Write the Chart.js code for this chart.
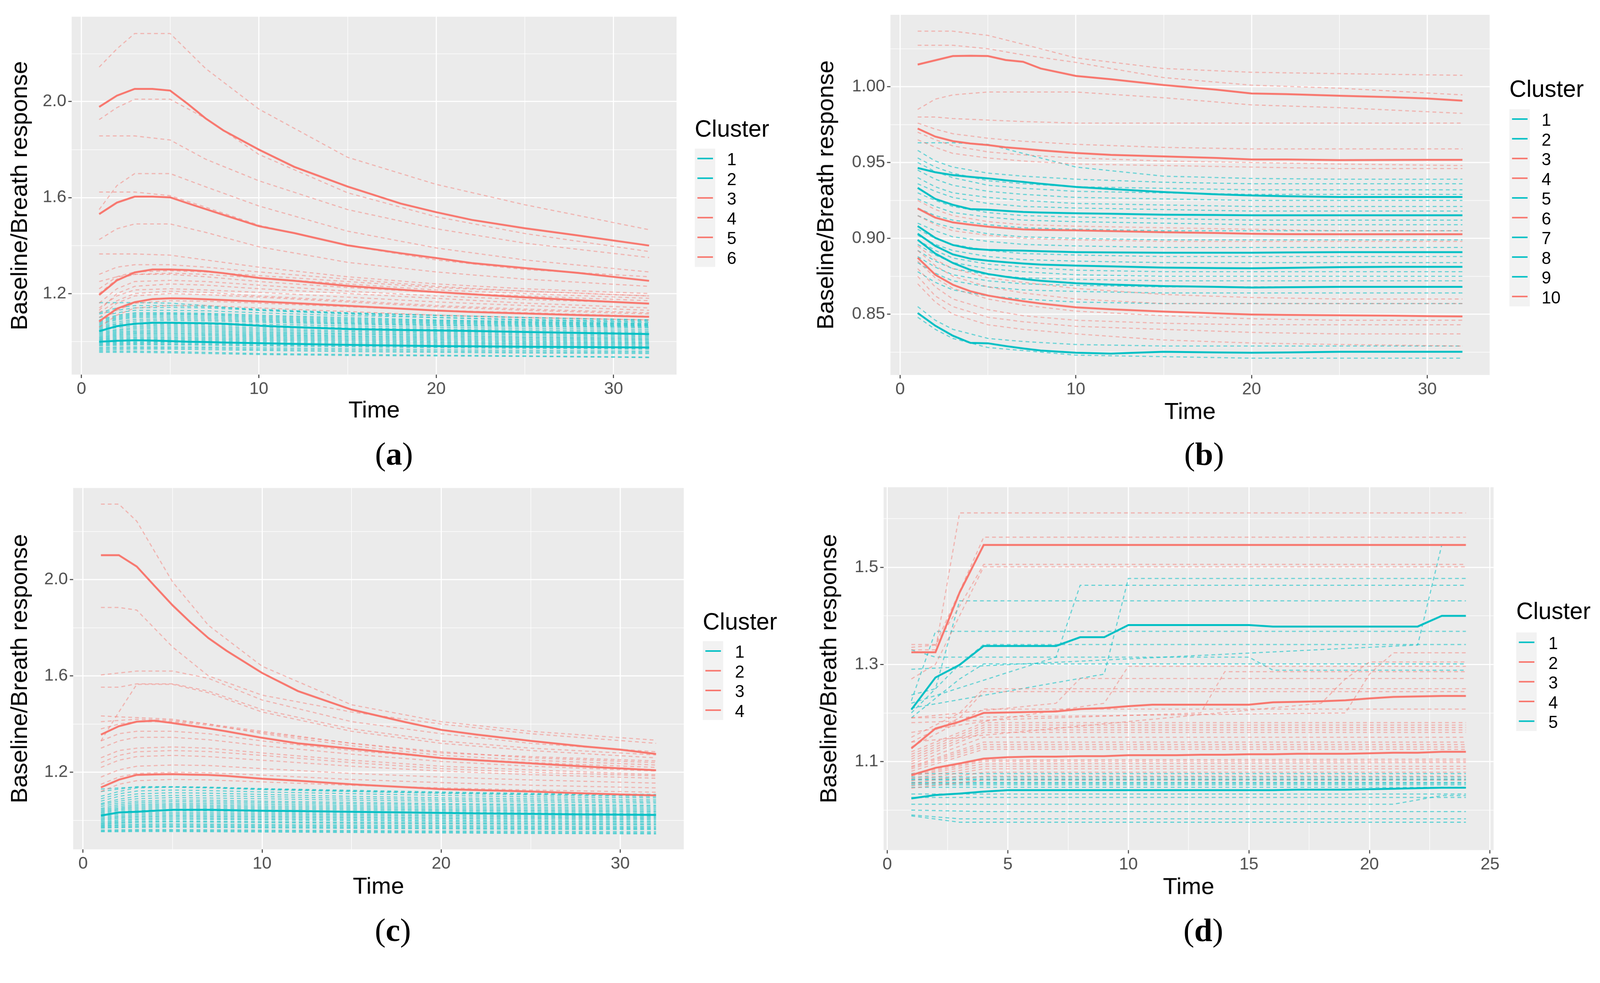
<!DOCTYPE html>
<html>
<head>
<meta charset="utf-8">
<script src="https://cdn.jsdelivr.net/npm/chart.js@4.4.1/dist/chart.umd.min.js"></script>
<style>
  html, body { margin: 0; padding: 0; background: #fff; overflow: hidden; }
  #page { position: relative; width: 4219px; height: 2517px; transform-origin: 0 0;
          font-family: "Liberation Sans", Arial, sans-serif; }
  canvas { position: absolute; }
  .ttl { position: absolute; font-size: 62px; line-height: 62px; color: #000; }
  .keys { position: absolute; background: #F2F2F2; width: 54px; }
  .row { height: 52px; position: relative; }
  .row i { position: absolute; left: 7px; top: 24px; width: 41px; height: 4px; }
  .lab { position: absolute; font-size: 45px; line-height: 52px; color: #000; }
  .cap { position: absolute; font-family: "Liberation Serif", serif; font-size: 86px; line-height: 1;
         transform: translate(-50%, -50%); white-space: nowrap; }
</style>
</head>
<body>
<div id="page"></div>
<script>
const TEAL = "#00BFC4", RED = "#F8766D";
const TEAL_DASH = "rgba(0,191,196,0.6)", RED_DASH = "rgba(248,118,109,0.5)";
Chart.defaults.font.family = '"Liberation Sans", Arial, sans-serif';

// ---------- panel (a)
const clustersA = ["1", "2", "3", "4", "5", "6"];
const meanTimeA = [1, 2, 3, 4, 5, 6, 7, 8, 10, 12, 15, 18, 20, 22, 25, 28, 32];
const meanA1 = [1.043, 1.064, 1.074, 1.078, 1.078, 1.077, 1.076, 1.074, 1.066, 1.06, 1.052, 1.048, 1.046, 1.044, 1.04, 1.036, 1.031];
const meanA2 = [0.999, 1.003, 1.005, 1.004, 1.002, 0.999, 0.998, 0.996, 0.993, 0.99, 0.986, 0.983, 0.981, 0.98, 0.978, 0.977, 0.975];
const meanA3 = [1.978, 2.025, 2.053, 2.053, 2.046, 1.99, 1.93, 1.88, 1.80, 1.728, 1.646, 1.575, 1.539, 1.507, 1.472, 1.442, 1.40];
const meanA4 = [1.531, 1.579, 1.604, 1.604, 1.601, 1.576, 1.552, 1.528, 1.481, 1.452, 1.401, 1.368, 1.348, 1.327, 1.306, 1.286, 1.253];
const meanA5 = [1.194, 1.255, 1.288, 1.30, 1.30, 1.298, 1.293, 1.285, 1.265, 1.253, 1.232, 1.216, 1.206, 1.197, 1.184, 1.172, 1.158];
const meanA6 = [1.084, 1.137, 1.164, 1.177, 1.18, 1.179, 1.176, 1.173, 1.167, 1.16, 1.149, 1.137, 1.129, 1.123, 1.117, 1.11, 1.103];
const dashTimeA = [1, 2, 3, 5, 7, 10, 15, 20, 25, 32];
const dashRedA = [
  [2.144, 2.22, 2.284, 2.284, 2.138, 1.969, 1.768, 1.655, 1.57, 1.466],
  [1.925, 1.975, 2.01, 2.01, 1.93, 1.78, 1.62, 1.52, 1.45, 1.375],
  [1.857, 1.857, 1.857, 1.84, 1.76, 1.67, 1.55, 1.47, 1.41, 1.35],
  [1.55, 1.65, 1.70, 1.70, 1.645, 1.565, 1.46, 1.39, 1.34, 1.29],
  [1.623, 1.623, 1.623, 1.608, 1.56, 1.485, 1.40, 1.34, 1.30, 1.27],
  [1.425, 1.47, 1.49, 1.49, 1.455, 1.395, 1.33, 1.29, 1.26, 1.23],
  [1.365, 1.365, 1.365, 1.36, 1.34, 1.31, 1.27, 1.24, 1.22, 1.20],
  [1.28, 1.31, 1.32, 1.32, 1.31, 1.29, 1.26, 1.23, 1.21, 1.19],
  [1.20, 1.26, 1.28, 1.285, 1.28, 1.265, 1.24, 1.215, 1.20, 1.18],
  [1.25, 1.27, 1.28, 1.28, 1.27, 1.25, 1.225, 1.205, 1.19, 1.17],
  [1.13, 1.20, 1.23, 1.24, 1.235, 1.22, 1.20, 1.18, 1.16, 1.14],
  [1.10, 1.16, 1.19, 1.20, 1.195, 1.185, 1.165, 1.145, 1.13, 1.115],
  [1.08, 1.13, 1.16, 1.17, 1.168, 1.16, 1.145, 1.13, 1.12, 1.105],
  [1.12, 1.17, 1.20, 1.21, 1.205, 1.19, 1.17, 1.15, 1.135, 1.12],
  [1.06, 1.11, 1.14, 1.15, 1.15, 1.14, 1.125, 1.11, 1.10, 1.09],
  [1.16, 1.22, 1.25, 1.255, 1.25, 1.235, 1.21, 1.19, 1.175, 1.16],
  [1.22, 1.27, 1.29, 1.295, 1.29, 1.275, 1.25, 1.225, 1.21, 1.19],
  [1.14, 1.19, 1.215, 1.22, 1.215, 1.205, 1.185, 1.165, 1.15, 1.13]
];
const dashTealA = [
  [1.162, 1.162, 1.162, 1.16, 1.15, 1.13, 1.115, 1.10, 1.09, 1.08],
  [1.12, 1.14, 1.15, 1.15, 1.145, 1.135, 1.12, 1.11, 1.10, 1.09],
  [1.115, 1.13, 1.14, 1.142, 1.14, 1.13, 1.118, 1.108, 1.10, 1.09],
  [1.10, 1.12, 1.13, 1.13, 1.128, 1.12, 1.108, 1.10, 1.092, 1.085],
  [1.09, 1.11, 1.12, 1.12, 1.118, 1.11, 1.10, 1.09, 1.085, 1.075],
  [1.085, 1.105, 1.115, 1.116, 1.114, 1.105, 1.095, 1.087, 1.081, 1.073],
  [1.08, 1.10, 1.11, 1.112, 1.11, 1.10, 1.09, 1.083, 1.078, 1.07],
  [1.075, 1.095, 1.105, 1.106, 1.104, 1.095, 1.085, 1.079, 1.074, 1.067],
  [1.07, 1.09, 1.10, 1.10, 1.098, 1.09, 1.08, 1.075, 1.07, 1.065],
  [1.065, 1.082, 1.092, 1.094, 1.092, 1.085, 1.076, 1.07, 1.066, 1.061],
  [1.06, 1.075, 1.085, 1.088, 1.086, 1.08, 1.072, 1.066, 1.062, 1.058],
  [1.055, 1.07, 1.078, 1.08, 1.078, 1.072, 1.065, 1.059, 1.055, 1.051],
  [1.05, 1.065, 1.07, 1.072, 1.07, 1.065, 1.058, 1.052, 1.048, 1.044],
  [1.045, 1.058, 1.064, 1.066, 1.064, 1.058, 1.052, 1.046, 1.042, 1.038],
  [1.04, 1.05, 1.058, 1.06, 1.058, 1.052, 1.045, 1.04, 1.036, 1.032],
  [1.035, 1.045, 1.052, 1.054, 1.052, 1.046, 1.04, 1.035, 1.031, 1.027],
  [1.03, 1.04, 1.045, 1.048, 1.046, 1.04, 1.034, 1.03, 1.026, 1.022],
  [1.025, 1.035, 1.04, 1.042, 1.04, 1.035, 1.03, 1.025, 1.02, 1.017],
  [1.02, 1.03, 1.035, 1.036, 1.034, 1.03, 1.024, 1.02, 1.016, 1.012],
  [1.016, 1.025, 1.03, 1.031, 1.029, 1.025, 1.02, 1.015, 1.011, 1.008],
  [1.012, 1.02, 1.024, 1.025, 1.024, 1.02, 1.015, 1.01, 1.006, 1.003],
  [1.008, 1.015, 1.018, 1.019, 1.018, 1.015, 1.01, 1.005, 1.001, 0.998],
  [1.005, 1.01, 1.013, 1.014, 1.013, 1.01, 1.005, 1.0, 0.997, 0.994],
  [1.0, 1.005, 1.008, 1.009, 1.008, 1.005, 1.0, 0.996, 0.992, 0.99],
  [0.998, 1.0, 1.003, 1.004, 1.003, 1.0, 0.995, 0.991, 0.988, 0.985],
  [0.994, 0.996, 0.998, 0.999, 0.998, 0.995, 0.99, 0.986, 0.983, 0.98],
  [0.99, 0.992, 0.994, 0.995, 0.994, 0.99, 0.986, 0.982, 0.979, 0.976],
  [0.986, 0.988, 0.99, 0.99, 0.989, 0.986, 0.982, 0.978, 0.975, 0.972],
  [0.982, 0.984, 0.986, 0.986, 0.985, 0.982, 0.978, 0.974, 0.971, 0.968],
  [0.975, 0.977, 0.978, 0.978, 0.977, 0.974, 0.97, 0.966, 0.963, 0.96],
  [0.97, 0.972, 0.973, 0.973, 0.972, 0.968, 0.964, 0.96, 0.957, 0.955],
  [0.965, 0.967, 0.968, 0.968, 0.966, 0.963, 0.958, 0.955, 0.952, 0.95],
  [0.96, 0.96, 0.96, 0.958, 0.955, 0.95, 0.946, 0.943, 0.94, 0.935],
  [0.955, 0.955, 0.955, 0.953, 0.95, 0.946, 0.942, 0.94, 0.938, 0.933]
];
const xTicksA = [0, 5, 10, 15, 20, 25, 30], xMajorA = [0, 10, 20, 30];
const yTicksA = [1.0, 1.2, 1.4, 1.6, 1.8, 2.0, 2.2], yMajorA = [1.2, 1.6, 2.0];

// ---------- panel (b)
const clustersB = ["1", "2", "3", "4", "5", "6", "7", "8", "9", "10"];
const meanTimeB = [1, 2, 3, 4, 5, 6, 7, 8, 10, 12, 15, 18, 20, 22, 25, 28, 30, 32];
const meanB1 = [0.9464, 0.9436, 0.9417, 0.9405, 0.9395, 0.9383, 0.9372, 0.936, 0.9339, 0.9325, 0.9305, 0.929, 0.9283, 0.9278, 0.9273, 0.9273, 0.9273, 0.9273];
const meanB2 = [0.9333, 0.926, 0.9221, 0.9193, 0.9189, 0.9181, 0.9174, 0.917, 0.9165, 0.9162, 0.9156, 0.9154, 0.9152, 0.9152, 0.9152, 0.9152, 0.9152, 0.9152];
const meanB3 = [1.0146, 1.0174, 1.0202, 1.0204, 1.0202, 1.0176, 1.0164, 1.012, 1.0071, 1.0049, 1.0011, 0.998, 0.9955, 0.9951, 0.994, 0.9931, 0.9922, 0.9908];
const meanB4 = [0.9724, 0.9671, 0.9641, 0.9625, 0.9615, 0.960, 0.9591, 0.958, 0.9563, 0.955, 0.954, 0.953, 0.952, 0.952, 0.9516, 0.9517, 0.9518, 0.9518];
const meanB5 = [0.9081, 0.9003, 0.8956, 0.8932, 0.8924, 0.8921, 0.8919, 0.8915, 0.8909, 0.8907, 0.8905, 0.8905, 0.8905, 0.8907, 0.8909, 0.8909, 0.8909, 0.8909];
const meanB6 = [0.9197, 0.9137, 0.9105, 0.909, 0.9077, 0.9067, 0.9059, 0.9056, 0.9053, 0.9048, 0.904, 0.9035, 0.903, 0.9028, 0.9027, 0.9027, 0.9027, 0.9027];
const meanB7 = [0.9031, 0.895, 0.8894, 0.8866, 0.8853, 0.8843, 0.8834, 0.8827, 0.882, 0.8815, 0.8807, 0.8804, 0.8803, 0.8805, 0.881, 0.8812, 0.8812, 0.8812];
const meanB8 = [0.899, 0.89, 0.8838, 0.8792, 0.8765, 0.8747, 0.8732, 0.872, 0.8704, 0.8695, 0.8685, 0.868, 0.8676, 0.8678, 0.868, 0.868, 0.868, 0.868];
const meanB9 = [0.8508, 0.8424, 0.8358, 0.8311, 0.8308, 0.829, 0.8274, 0.826, 0.8246, 0.824, 0.8252, 0.8248, 0.8246, 0.8248, 0.8252, 0.8252, 0.8252, 0.8252];
const meanB10 = [0.8872, 0.876, 0.8694, 0.8651, 0.8623, 0.8603, 0.8586, 0.857, 0.8545, 0.8532, 0.8517, 0.8505, 0.8498, 0.8495, 0.8493, 0.849, 0.8487, 0.8485];
const dashTimeB = [1, 2, 3, 5, 7, 10, 15, 20, 25, 32];
const dashRedB = [
  [1.0366, 1.0366, 1.0366, 1.0338, 1.028, 1.019, 1.012, 1.0095, 1.0086, 1.0075],
  [1.0273, 1.0273, 1.0273, 1.025, 1.021, 1.016, 1.006, 1.001, 0.999, 0.9946],
  [0.985, 0.9918, 0.9946, 0.9965, 0.9965, 0.9965, 0.9927, 0.988, 0.9862, 0.9824],
  [0.980, 0.980, 0.979, 0.978, 0.977, 0.976, 0.976, 0.976, 0.976, 0.976],
  [0.976, 0.972, 0.969, 0.966, 0.964, 0.962, 0.960, 0.959, 0.959, 0.959],
  [0.970, 0.965, 0.961, 0.957, 0.955, 0.953, 0.951, 0.950, 0.949, 0.948],
  [0.965, 0.960, 0.956, 0.953, 0.951, 0.949, 0.948, 0.947, 0.946, 0.946],
  [0.925, 0.919, 0.915, 0.911, 0.909, 0.908, 0.907, 0.906, 0.905, 0.905],
  [0.915, 0.909, 0.905, 0.902, 0.900, 0.899, 0.898, 0.898, 0.898, 0.898],
  [0.895, 0.886, 0.880, 0.874, 0.871, 0.867, 0.863, 0.861, 0.860, 0.860],
  [0.892, 0.882, 0.875, 0.868, 0.864, 0.860, 0.857, 0.857, 0.857, 0.857],
  [0.885, 0.874, 0.867, 0.860, 0.856, 0.852, 0.849, 0.847, 0.846, 0.846],
  [0.880, 0.868, 0.860, 0.853, 0.849, 0.846, 0.844, 0.843, 0.843, 0.843],
  [0.875, 0.862, 0.855, 0.848, 0.845, 0.842, 0.840, 0.838, 0.837, 0.837],
  [0.870, 0.858, 0.850, 0.843, 0.840, 0.837, 0.833, 0.831, 0.830, 0.829]
];
const dashTealB = [
  [0.963, 0.963, 0.963, 0.962, 0.956, 0.947, 0.941, 0.9395, 0.939, 0.939],
  [0.958, 0.951, 0.947, 0.943, 0.941, 0.939, 0.937, 0.936, 0.936, 0.936],
  [0.953, 0.947, 0.943, 0.938, 0.936, 0.934, 0.933, 0.932, 0.932, 0.932],
  [0.950, 0.944, 0.940, 0.935, 0.933, 0.931, 0.930, 0.929, 0.929, 0.929],
  [0.945, 0.939, 0.935, 0.931, 0.929, 0.927, 0.926, 0.925, 0.925, 0.925],
  [0.940, 0.934, 0.930, 0.927, 0.925, 0.923, 0.922, 0.921, 0.921, 0.921],
  [0.936, 0.931, 0.927, 0.923, 0.921, 0.920, 0.919, 0.918, 0.918, 0.918],
  [0.930, 0.925, 0.921, 0.917, 0.915, 0.914, 0.913, 0.912, 0.912, 0.912],
  [0.926, 0.921, 0.917, 0.914, 0.912, 0.911, 0.910, 0.909, 0.909, 0.909],
  [0.920, 0.915, 0.912, 0.909, 0.907, 0.906, 0.905, 0.905, 0.905, 0.905],
  [0.915, 0.910, 0.907, 0.903, 0.901, 0.900, 0.899, 0.899, 0.899, 0.899],
  [0.910, 0.905, 0.901, 0.898, 0.896, 0.895, 0.894, 0.894, 0.894, 0.894],
  [0.906, 0.900, 0.896, 0.892, 0.890, 0.889, 0.888, 0.888, 0.888, 0.888],
  [0.902, 0.896, 0.892, 0.888, 0.886, 0.885, 0.884, 0.884, 0.884, 0.884],
  [0.899, 0.892, 0.887, 0.883, 0.881, 0.879, 0.878, 0.878, 0.878, 0.878],
  [0.896, 0.889, 0.884, 0.880, 0.878, 0.876, 0.875, 0.875, 0.875, 0.875],
  [0.892, 0.885, 0.880, 0.876, 0.874, 0.873, 0.872, 0.872, 0.872, 0.872],
  [0.888, 0.881, 0.876, 0.872, 0.870, 0.869, 0.868, 0.868, 0.868, 0.868],
  [0.884, 0.877, 0.872, 0.868, 0.866, 0.865, 0.864, 0.864, 0.864, 0.864],
  [0.878, 0.871, 0.866, 0.862, 0.860, 0.858, 0.857, 0.857, 0.857, 0.857],
  [0.855, 0.846, 0.840, 0.834, 0.832, 0.830, 0.829, 0.829, 0.829, 0.829],
  [0.848, 0.840, 0.834, 0.828, 0.826, 0.823, 0.822, 0.821, 0.821, 0.821]
];
const xTicksB = [0, 5, 10, 15, 20, 25, 30], xMajorB = [0, 10, 20, 30];
const yTicksB = [0.825, 0.85, 0.875, 0.9, 0.925, 0.95, 0.975, 1.0, 1.025], yMajorB = [0.85, 0.9, 0.95, 1.0];

// ---------- panel (c)
const clustersC = ["1", "2", "3", "4"];
const meanTimeC = [1, 2, 3, 4, 5, 6, 7, 8, 10, 12, 15, 18, 20, 22, 25, 28, 30, 32];
const meanC1 = [1.02, 1.033, 1.036, 1.04, 1.044, 1.044, 1.044, 1.043, 1.04, 1.039, 1.036, 1.033, 1.031, 1.029, 1.027, 1.025, 1.024, 1.023];
const meanC2 = [2.101, 2.101, 2.054, 1.973, 1.893, 1.822, 1.757, 1.705, 1.612, 1.537, 1.46, 1.408, 1.376, 1.356, 1.33, 1.307, 1.294, 1.276];
const meanC3 = [1.356, 1.391, 1.41, 1.414, 1.404, 1.393, 1.382, 1.37, 1.343, 1.32, 1.298, 1.275, 1.259, 1.25, 1.237, 1.224, 1.216, 1.208];
const meanC4 = [1.137, 1.169, 1.189, 1.191, 1.192, 1.19, 1.189, 1.185, 1.173, 1.165, 1.15, 1.138, 1.13, 1.126, 1.12, 1.112, 1.108, 1.104];
const dashTimeC = [1, 2, 3, 5, 7, 10, 15, 20, 25, 32];
const dashRedC = [
  [2.313, 2.313, 2.242, 1.99, 1.81, 1.64, 1.48, 1.41, 1.37, 1.333],
  [1.884, 1.884, 1.873, 1.72, 1.60, 1.52, 1.45, 1.40, 1.36, 1.32],
  [1.604, 1.612, 1.62, 1.62, 1.59, 1.50, 1.41, 1.36, 1.32, 1.285],
  [1.553, 1.553, 1.567, 1.567, 1.537, 1.46, 1.38, 1.33, 1.30, 1.272],
  [1.33, 1.45, 1.565, 1.565, 1.53, 1.45, 1.37, 1.32, 1.29, 1.26],
  [1.434, 1.43, 1.427, 1.42, 1.40, 1.37, 1.32, 1.28, 1.265, 1.247],
  [1.41, 1.415, 1.42, 1.415, 1.40, 1.36, 1.31, 1.27, 1.25, 1.23],
  [1.38, 1.40, 1.41, 1.41, 1.395, 1.365, 1.32, 1.285, 1.26, 1.24],
  [1.33, 1.36, 1.37, 1.37, 1.36, 1.33, 1.29, 1.26, 1.24, 1.22],
  [1.30, 1.33, 1.345, 1.345, 1.335, 1.31, 1.275, 1.245, 1.225, 1.205],
  [1.26, 1.29, 1.30, 1.305, 1.30, 1.28, 1.25, 1.225, 1.21, 1.19],
  [1.24, 1.27, 1.285, 1.29, 1.286, 1.27, 1.24, 1.215, 1.20, 1.185],
  [1.22, 1.25, 1.265, 1.27, 1.265, 1.25, 1.225, 1.205, 1.19, 1.175],
  [1.18, 1.21, 1.225, 1.23, 1.228, 1.215, 1.195, 1.18, 1.168, 1.155],
  [1.15, 1.18, 1.195, 1.20, 1.198, 1.188, 1.17, 1.157, 1.146, 1.135],
  [1.12, 1.15, 1.165, 1.17, 1.168, 1.16, 1.146, 1.135, 1.126, 1.117]
];
const dashTealC = [
  [1.13, 1.135, 1.138, 1.139, 1.137, 1.13, 1.122, 1.115, 1.109, 1.104],
  [1.12, 1.13, 1.14, 1.14, 1.138, 1.132, 1.125, 1.118, 1.112, 1.108],
  [1.10, 1.12, 1.135, 1.138, 1.135, 1.128, 1.12, 1.112, 1.106, 1.10],
  [1.09, 1.11, 1.122, 1.126, 1.124, 1.118, 1.111, 1.104, 1.098, 1.094],
  [1.08, 1.10, 1.11, 1.115, 1.113, 1.108, 1.10, 1.094, 1.09, 1.085],
  [1.07, 1.088, 1.10, 1.104, 1.103, 1.099, 1.092, 1.087, 1.083, 1.078],
  [1.065, 1.08, 1.09, 1.095, 1.093, 1.09, 1.084, 1.08, 1.076, 1.072],
  [1.058, 1.072, 1.08, 1.085, 1.084, 1.08, 1.075, 1.07, 1.067, 1.063],
  [1.05, 1.065, 1.073, 1.078, 1.077, 1.074, 1.069, 1.065, 1.062, 1.058],
  [1.045, 1.058, 1.066, 1.07, 1.07, 1.067, 1.062, 1.058, 1.055, 1.052],
  [1.04, 1.052, 1.06, 1.064, 1.063, 1.06, 1.056, 1.052, 1.049, 1.046],
  [1.035, 1.047, 1.054, 1.058, 1.057, 1.054, 1.05, 1.046, 1.043, 1.04],
  [1.03, 1.042, 1.048, 1.052, 1.051, 1.048, 1.044, 1.041, 1.038, 1.035],
  [1.025, 1.036, 1.042, 1.046, 1.045, 1.042, 1.038, 1.035, 1.032, 1.029],
  [1.02, 1.03, 1.036, 1.04, 1.039, 1.036, 1.032, 1.029, 1.026, 1.024],
  [1.015, 1.024, 1.03, 1.033, 1.032, 1.03, 1.026, 1.023, 1.02, 1.018],
  [1.01, 1.018, 1.024, 1.027, 1.026, 1.024, 1.021, 1.018, 1.015, 1.013],
  [1.005, 1.013, 1.018, 1.021, 1.02, 1.018, 1.015, 1.012, 1.01, 1.008],
  [1.0, 1.008, 1.013, 1.016, 1.015, 1.013, 1.01, 1.007, 1.005, 1.003],
  [0.995, 1.002, 1.007, 1.01, 1.009, 1.007, 1.004, 1.001, 0.999, 0.997],
  [0.99, 0.997, 1.002, 1.004, 1.004, 1.002, 0.999, 0.996, 0.994, 0.992],
  [0.986, 0.992, 0.996, 0.998, 0.997, 0.995, 0.992, 0.99, 0.988, 0.986],
  [0.982, 0.988, 0.992, 0.994, 0.993, 0.991, 0.988, 0.986, 0.984, 0.982],
  [0.978, 0.982, 0.985, 0.986, 0.985, 0.983, 0.981, 0.979, 0.977, 0.975],
  [0.975, 0.978, 0.98, 0.981, 0.98, 0.978, 0.976, 0.974, 0.972, 0.97],
  [0.971, 0.973, 0.975, 0.976, 0.975, 0.973, 0.971, 0.969, 0.967, 0.966],
  [0.968, 0.97, 0.971, 0.972, 0.971, 0.969, 0.967, 0.965, 0.963, 0.962],
  [0.96, 0.961, 0.962, 0.962, 0.961, 0.96, 0.958, 0.956, 0.955, 0.953],
  [0.956, 0.957, 0.958, 0.958, 0.957, 0.956, 0.954, 0.952, 0.95, 0.948],
  [0.953, 0.953, 0.954, 0.954, 0.953, 0.952, 0.95, 0.948, 0.946, 0.944]
];
const xTicksC = [0, 5, 10, 15, 20, 25, 30], xMajorC = [0, 10, 20, 30];
const yTicksC = [1.0, 1.2, 1.4, 1.6, 1.8, 2.0, 2.2], yMajorC = [1.2, 1.6, 2.0];

// ---------- panel (d)
const clustersD = ["1", "2", "3", "4", "5"];
const meanTimeD = [1, 2, 3, 4, 5, 6, 7, 8, 9, 10, 11, 12, 13, 14, 15, 16, 17, 18, 19, 20, 21, 22, 23, 24];
const meanD1 = [1.207, 1.273, 1.299, 1.338, 1.338, 1.338, 1.338, 1.356, 1.356, 1.381, 1.381, 1.381, 1.381, 1.381, 1.381, 1.378, 1.378, 1.378, 1.378, 1.378, 1.378, 1.378, 1.40, 1.40];
const meanD2 = [1.325, 1.325, 1.448, 1.546, 1.546, 1.546, 1.546, 1.546, 1.546, 1.546, 1.546, 1.546, 1.546, 1.546, 1.546, 1.546, 1.546, 1.546, 1.546, 1.546, 1.546, 1.546, 1.546, 1.546];
const meanD3 = [1.127, 1.168, 1.182, 1.200, 1.201, 1.202, 1.203, 1.208, 1.210, 1.214, 1.217, 1.217, 1.217, 1.217, 1.217, 1.222, 1.223, 1.224, 1.226, 1.230, 1.233, 1.234, 1.235, 1.235];
const meanD4 = [1.072, 1.087, 1.096, 1.106, 1.109, 1.110, 1.110, 1.111, 1.111, 1.113, 1.113, 1.113, 1.114, 1.114, 1.115, 1.115, 1.116, 1.116, 1.116, 1.117, 1.118, 1.118, 1.120, 1.120];
const meanD5 = [1.024, 1.031, 1.034, 1.038, 1.041, 1.041, 1.041, 1.041, 1.041, 1.041, 1.041, 1.041, 1.041, 1.041, 1.041, 1.041, 1.042, 1.042, 1.042, 1.043, 1.044, 1.045, 1.046, 1.046];
// [time, value] break points of the individual step-like curves
const dashRedD = [
  [[1, 1.33], [2, 1.33], [3, 1.612], [24, 1.612]],
  [[1, 1.341], [2, 1.341], [3, 1.45], [4, 1.562], [24, 1.562]],
  [[1, 1.335], [2, 1.34], [3, 1.42], [4, 1.506], [24, 1.506]],
  [[1, 1.27], [2, 1.30], [3, 1.40], [4, 1.501], [24, 1.501]],
  [[1, 1.19], [19, 1.20], [20, 1.28], [21, 1.324], [24, 1.324]],
  [[1, 1.16], [9, 1.22], [10, 1.296], [24, 1.296]],
  [[1, 1.14], [18, 1.22], [19, 1.27], [20, 1.305], [24, 1.305]],
  [[1, 1.19], [7, 1.22], [8, 1.271], [24, 1.271]],
  [[1, 1.18], [13, 1.20], [14, 1.285], [24, 1.285]],
  [[1, 1.15], [3, 1.20], [4, 1.25], [24, 1.25]],
  [[1, 1.14], [3, 1.19], [4, 1.244], [24, 1.244]],
  [[1, 1.13], [4, 1.208], [24, 1.208]],
  [[1, 1.12], [4, 1.18], [24, 1.18]],
  [[1, 1.115], [4, 1.175], [24, 1.175]],
  [[1, 1.11], [4, 1.17], [24, 1.17]],
  [[1, 1.105], [4, 1.165], [24, 1.165]],
  [[1, 1.10], [4, 1.16], [24, 1.16]],
  [[1, 1.095], [4, 1.15], [24, 1.15]],
  [[1, 1.09], [4, 1.14], [24, 1.14]],
  [[1, 1.088], [4, 1.135], [24, 1.135]],
  [[1, 1.085], [4, 1.13], [24, 1.13]],
  [[1, 1.08], [4, 1.125], [24, 1.125]],
  [[1, 1.075], [4, 1.103], [24, 1.105]],
  [[1, 1.072], [4, 1.1], [24, 1.101]],
  [[1, 1.07], [4, 1.095], [24, 1.098]],
  [[1, 1.065], [4, 1.09], [24, 1.09]],
  [[1, 1.06], [4, 1.085], [24, 1.085]],
  [[1, 1.055], [4, 1.078], [24, 1.078]],
  [[1, 1.05], [4, 1.07], [24, 1.07]],
  [[1, 1.045], [4, 1.062], [24, 1.062]]
];
const dashTealD = [
  [[1, 1.21], [9, 1.28], [10, 1.477], [24, 1.477]],
  [[1, 1.22], [7, 1.315], [8, 1.463], [24, 1.463]],
  [[1, 1.237], [2, 1.25], [3, 1.431], [24, 1.431]],
  [[1, 1.225], [2, 1.368], [24, 1.368]],
  [[1, 1.20], [3, 1.30], [4, 1.341], [24, 1.341]],
  [[1, 1.33], [2, 1.315], [15, 1.315], [16, 1.288], [24, 1.288]],
  [[1, 1.19], [3, 1.27], [4, 1.301], [24, 1.301]],
  [[1, 1.29], [22, 1.34], [23, 1.546], [24, 1.546]],
  [[1, 1.075], [24, 1.075]],
  [[1, 1.068], [24, 1.068]],
  [[1, 1.064], [24, 1.064]],
  [[1, 1.062], [24, 1.062]],
  [[1, 1.057], [24, 1.057]],
  [[1, 1.055], [24, 1.055]],
  [[1, 1.052], [24, 1.052]],
  [[1, 1.047], [24, 1.047]],
  [[1, 1.033], [24, 1.033]],
  [[1, 1.026], [24, 1.026]],
  [[1, 1.012], [21, 1.012], [23, 1.03], [24, 1.03]],
  [[1, 1.0], [4, 0.997], [24, 0.997]],
  [[1, 0.99], [3, 0.982], [24, 0.982]],
  [[1, 0.988], [3, 0.975], [24, 0.975]]
];
const xTicksD = [0, 2.5, 5, 7.5, 10, 12.5, 15, 17.5, 20, 22.5, 25], xMajorD = [0, 5, 10, 15, 20, 25];
const yTicksD = [1.0, 1.1, 1.2, 1.3, 1.4, 1.5, 1.6], yMajorD = [1.1, 1.3, 1.5];

// ---------- layout of the four panels (pixels on a 4219 x 2517 page)
const panels = [
  { caption: "a", capX: 1039, capY: 1197,
    box: { l: 189, r: 1784, t: 22, b: 988, yTitleX: 54, xTitleY: 1084 },
    x: [-0.55, 33.55], y: [0.862, 2.354], xTicks: xTicksA, xMajor: xMajorA, yTicks: yTicksA, yMajor: yMajorA, yDigits: 1,
    meanX: meanTimeA, means: [meanA1, meanA2, meanA3, meanA4, meanA5, meanA6],
    colors: [TEAL, TEAL, RED, RED, RED, RED], clusters: clustersA,
    dashX: dashTimeA, dashRed: dashRedA, dashTeal: dashTealA,
    legend: { left: 1832, titleBase: 360, top: 392 } },
  { caption: "b", capX: 3175, capY: 1197,
    box: { l: 2348, r: 3928, t: 17, b: 989, yTitleX: 2180, xTitleY: 1088 },
    x: [-0.55, 33.55], y: [0.8099, 1.0474], xTicks: xTicksB, xMajor: xMajorB, yTicks: yTicksB, yMajor: yMajorB, yDigits: 2,
    meanX: meanTimeB, means: [meanB1, meanB2, meanB3, meanB4, meanB5, meanB6, meanB7, meanB8, meanB9, meanB10],
    colors: [TEAL, TEAL, RED, RED, TEAL, RED, TEAL, TEAL, TEAL, RED], clusters: clustersB,
    dashX: dashTimeB, dashRed: dashRedB, dashTeal: dashTealB,
    legend: { left: 3980, titleBase: 255, top: 288 } },
  { caption: "c", capX: 1036, capY: 2452,
    box: { l: 193, r: 1803, t: 1265, b: 2240, yTitleX: 54, xTitleY: 2340 },
    x: [-0.55, 33.55], y: [0.880, 2.380], xTicks: xTicksC, xMajor: xMajorC, yTicks: yTicksC, yMajor: yMajorC, yDigits: 1,
    meanX: meanTimeC, means: [meanC1, meanC2, meanC3, meanC4],
    colors: [TEAL, RED, RED, RED], clusters: clustersC,
    dashX: dashTimeC, dashRed: dashRedC, dashTeal: dashTealC,
    legend: { left: 1853, titleBase: 1660, top: 1691 } },
  { caption: "d", capX: 3173, capY: 2452,
    box: { l: 2330, r: 3947, t: 1263, b: 2242, yTitleX: 2188, xTitleY: 2341 },
    x: [-0.15, 25.15], y: [0.9176, 1.6649], xTicks: xTicksD, xMajor: xMajorD, yTicks: yTicksD, yMajor: yMajorD, yDigits: 1,
    meanX: meanTimeD, means: [meanD1, meanD2, meanD3, meanD4, meanD5],
    colors: [TEAL, RED, RED, RED, TEAL], clusters: clustersD,
    dashPairs: true, dashRed: dashRedD, dashTeal: dashTealD,
    legend: { left: 3998, titleBase: 1633, top: 1668 } }
];

const page = document.getElementById("page");
// fit the 4219 px wide layout into whatever viewport we really get
const fit = Math.min(window.innerWidth / 4219, window.innerHeight / 2517) || 1;
page.style.transform = "scale(" + fit + ")";

const panelBg = {
  id: "panelBg",
  beforeDraw(chart) {
    const { ctx, chartArea: a } = chart;
    ctx.save();
    ctx.fillStyle = "#EBEBEB";
    ctx.fillRect(a.left, a.top, a.right - a.left, a.bottom - a.top);
    ctx.restore();
  }
};

function gridFor(major) {
  const isMaj = (c) => c.tick && major.includes(c.tick.value);
  return {
    color: "#FFFFFF",
    lineWidth: (c) => (isMaj(c) ? 3 : 1.5),
    tickColor: (c) => (isMaj(c) ? "#333333" : "rgba(0,0,0,0)"),
    tickWidth: 2.5,
    tickLength: 9,
    drawTicks: true
  };
}

const TITLE = 62, HALF = TITLE * 1.2 / 2;

function drawPanel(p) {
  const g = p.box;
  const cl = g.yTitleX - 45, ct = g.t - 10;
  const cw = g.r + 10 - cl, ch = g.xTitleY + 45 - ct;
  const cv = document.createElement("canvas");
  cv.width = cw; cv.height = ch;
  cv.style.left = cl + "px"; cv.style.top = ct + "px";
  cv.style.width = cw + "px"; cv.style.height = ch + "px";
  page.appendChild(cv);

  const datasets = [];
  p.means.forEach((vals, i) => {
    datasets.push({
      data: vals.map((v, k) => ({ x: p.meanX[k], y: v })),
      borderColor: p.colors[i], borderWidth: 5
    });
  });
  const addDash = (lines, col) => lines.forEach((line) => {
    const data = p.dashPairs
      ? line.map((q) => ({ x: q[0], y: q[1] }))
      : line.map((v, k) => ({ x: p.dashX[k], y: v }));
    datasets.push({ data, borderColor: col, borderWidth: 2.8, borderDash: [10, 8] });
  });
  addDash(p.dashRed, RED_DASH);
  addDash(p.dashTeal, TEAL_DASH);

  new Chart(cv, {
    type: "line",
    data: { datasets },
    options: {
      responsive: false,
      animation: false,
      devicePixelRatio: 1,
      events: [],
      layout: {
        autoPadding: false,
        padding: { left: g.yTitleX - HALF - cl, top: g.t - ct, right: cl + cw - g.r, bottom: ct + ch - (g.xTitleY + HALF) }
      },
      elements: { point: { radius: 0 }, line: { tension: 0, fill: false, borderCapStyle: "butt" } },
      plugins: { legend: { display: false }, tooltip: { enabled: false } },
      scales: {
        x: {
          type: "linear", min: p.x[0], max: p.x[1], bounds: "data",
          border: { display: false },
          afterBuildTicks: (s) => { s.ticks = p.xTicks.map((v) => ({ value: v })); },
          afterFit: (s) => { s.height = g.xTitleY + HALF - g.b; },
          grid: gridFor(p.xMajor),
          ticks: { autoSkip: false, maxRotation: 0, minRotation: 0, padding: 3, color: "#4D4D4D", font: { size: 45 },
                   callback: (v) => (p.xMajor.includes(v) ? String(v) : "") },
          title: { display: true, text: "Time", color: "#000", font: { size: TITLE }, padding: 0 }
        },
        y: {
          type: "linear", min: p.y[0], max: p.y[1], bounds: "data",
          border: { display: false },
          afterBuildTicks: (s) => { s.ticks = p.yTicks.map((v) => ({ value: v })); },
          afterFit: (s) => { s.width = g.l - (g.yTitleX - HALF); },
          grid: gridFor(p.yMajor),
          ticks: { autoSkip: false, padding: 5, color: "#4D4D4D", font: { size: 45 },
                   callback: (v) => (p.yMajor.includes(v) ? v.toFixed(p.yDigits) : "") },
          title: { display: true, text: "Baseline/Breath response", color: "#000", font: { size: TITLE }, padding: 0 }
        }
      }
    },
    plugins: [panelBg]
  });

  // legend
  const L = p.legend;
  const ttl = document.createElement("div");
  ttl.className = "ttl";
  ttl.textContent = "Cluster";
  ttl.style.left = L.left + "px";
  ttl.style.top = (L.titleBase - 52.5) + "px";
  page.appendChild(ttl);
  const keys = document.createElement("div");
  keys.className = "keys";
  keys.style.left = L.left + "px";
  keys.style.top = L.top + "px";
  p.clusters.forEach((name, i) => {
    const row = document.createElement("div");
    row.className = "row";
    const seg = document.createElement("i");
    seg.style.background = p.colors[i];
    row.appendChild(seg);
    keys.appendChild(row);
    const lab = document.createElement("div");
    lab.className = "lab";
    lab.textContent = name;
    lab.style.left = (L.left + 85) + "px";
    lab.style.top = (L.top + 52 * i + 3) + "px";
    page.appendChild(lab);
  });
  page.appendChild(keys);

  const cap = document.createElement("div");
  cap.className = "cap";
  cap.innerHTML = "(<b>" + p.caption + "</b>)";
  cap.style.left = p.capX + "px";
  cap.style.top = p.capY + "px";
  page.appendChild(cap);
}

panels.forEach(drawPanel);
</script>
</body>
</html>
